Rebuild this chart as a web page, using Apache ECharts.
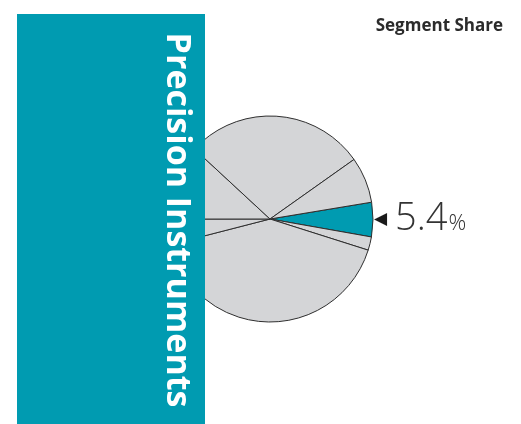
<!DOCTYPE html>
<html>
<head>
<meta charset="utf-8">
<style>
  html, body { margin: 0; padding: 0; background: #ffffff; }
  #chart { width: 521px; height: 424px; }
</style>
<script src="https://cdn.jsdelivr.net/npm/echarts@6/dist/echarts.min.js"></script>
</head>
<body>
<div id="chart"></div>
<script>
// Segment shares (percent), listed clockwise starting at the highlighted segment
const segmentNames = ['Precision Instruments', 'Segment 2', 'Segment 3', 'Segment 4', 'Segment 5', 'Segment 6', 'Segment 7'];
const segmentShares = [5.4, 2.1, 41.1, 4.0, 11.9, 28.3, 7.2];
const highlightIndex = 0;

const chartTitle = 'Segment Share';
const bandTitle = 'Precision Instruments';

const TEAL = '#009bb1';
const GREY = '#d4d5d7';

const chart = echarts.init(document.getElementById('chart'), null, { renderer: 'canvas' });

const pieData = segmentNames.map((name, i) => ({
  name: name,
  value: segmentShares[i],
  itemStyle: { color: i === highlightIndex ? TEAL : GREY },
  label: { show: i === highlightIndex }
}));

chart.setOption({
  animation: false,
  title: {
    text: chartTitle,
    right: 13,
    top: 13,
    textStyle: { fontFamily: 'Open Sans', fontWeight: 'bold', fontSize: 17, color: '#2b2b2b' }
  },
  series: [{
    type: 'pie',
    center: [270, 219],
    radius: 103,
    startAngle: 9.4,
    clockwise: true,
    avoidLabelOverlap: false,
    silent: true,
    itemStyle: { borderColor: '#2e2e2e', borderWidth: 1 },
    labelLine: { show: false, length: 1, length2: 0 },
    label: {
      position: 'outside',
      distanceToLabelLine: 0,
      formatter: p => '{arrow|◀}{num|' + p.value.toFixed(1) + '}{pct|%}',
      rich: {
        arrow: { fontFamily: 'DejaVu Sans', fontSize: 17, color: '#1a1a1a', padding: [0, 8, 0, 0], verticalAlign: 'middle' },
        num: { fontFamily: 'Open Sans', fontWeight: 300, fontSize: 38, color: '#333333' },
        pct: { fontFamily: 'Open Sans', fontWeight: 300, fontSize: 22, color: '#333333', padding: [9, 0, 0, 1] }
      }
    },
    data: pieData
  }],
  graphic: [
    {
      type: 'rect',
      z: 100,
      shape: { x: 17, y: 14, width: 188, height: 420 },
      style: { fill: TEAL }
    },
    {
      type: 'text',
      z: 101,
      x: 177,
      y: 220,
      rotation: -Math.PI / 2,
      style: {
        text: bandTitle,
        fontFamily: 'Open Sans',
        fontWeight: 'bold',
        fontSize: 34,
        fill: '#ffffff',
        align: 'center',
        verticalAlign: 'middle'
      }
    }
  ]
});
</script>
</body>
</html>
